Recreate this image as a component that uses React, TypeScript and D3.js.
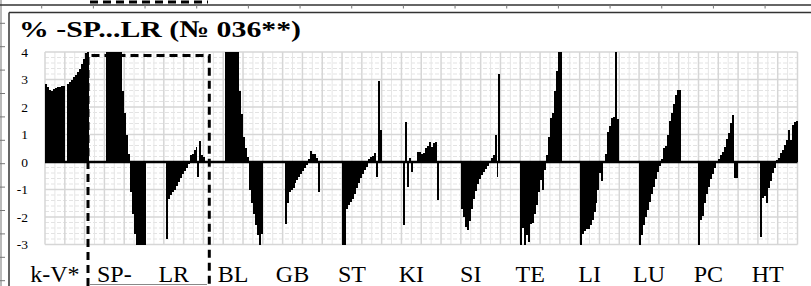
import * as d3 from "d3";

// подписи групп и значения столбцов (читаются с картинки, >4 и <-3 обрезаются осью)
const groups = ["k-V*", "SP-", "LR", "BL", "GB", "ST", "KI", "SI", "TE", "LI", "LU", "PC", "HT"];

const kV = [2.82, 2.72, 2.62, 2.6, 2.65, 2.7, 2.72, 2.74, 2.76, 2.78, 0, 2.85, 2.9, 3.0, 3.08, 3.18, 3.28, 3.4, 3.55, 3.75, 3.95, 4.2];
const sp = [0, 4.5, 4.5, 4.5, 4.5, 4.5, 4.5, 4.5, 4.5, 2.6, 1.8, 1.0, 0.3, -1.1, -1.9, -2.6, -3.5, -3.5, -3.5, -3.5, -3.5];
const lr = [0, -2.8, -1.35, -1.2, -1.1, -1.0, -0.88, -0.72, -0.58, -0.45, -0.33, -0.2, -0.08, 0.25, 0.3, 0.45, 0.55, -0.55, 0.75, 0.25, 0.2];
const bl = [0, 4.5, 4.5, 4.5, 4.5, 4.5, 4.5, 4.5, 2.6, 1.75, 0.9, 0.5, 0.2, -1.0, -1.5, -1.9, -2.3, -2.65, -3.2, -2.6];
const gb = [0, -2.25, -1.5, -1.1, -1.02, -0.95, -0.75, -0.65, -0.55, -0.42, -0.32, -0.22, -0.12, 0.1, 0.4, 0.3, 0.3, 0.15, -1.1];
const st = [-3.2, -3.2, -1.7, -1.55, -1.45, -1.35, -1.15, -0.95, -0.75, -0.58, -0.45, -0.3, -0.18, 0.12, 0.19, 0.22, 0.32, -0.55, 2.93, 1.16];
const ki = [0, -2.29, 1.47, -0.9, 0.13, -0.35, 0.05, 0.05, 0.35, 0.35, 0.3, 0.33, 0.5, 0.6, 0.72, 0.55, 0.68, 0.74, -1.38];
const si = [-1.7, -2.0, -2.35, -2.47, -2.15, -1.7, -1.35, -1.05, -0.8, -0.62, -0.48, -0.36, -0.25, -0.15, -0.05, 0.15, 0.25, 0.98, -0.55, 3.2];
const te = [-3.3, -2.4, -3.3, -2.65, -2.9, -2.25, -2.2, -1.9, -1.55, -1.1, -0.65, -1.0, -0.3, 0.25, 0.9, 1.6, 1.8, 2.6, 3.3, 4.3, 4.3];
const li = [-3.3, -2.6, -2.5, -2.45, -2.42, -2.3, -2.12, -1.8, -1.5, -1.0, -0.4, -0.68, 0.05, 0.3, 1.1, 1.3, 1.6, 1.65, 4.3, 1.55];
const lu = [-3.3, -2.65, -2.3, -2.0, -1.75, -1.45, -1.15, -0.9, -0.6, -0.35, -0.15, 0.12, 0.5, 0.6, 1.0, 1.5, 1.8, 2.1, 2.45, 2.62, 2.62];
const pc = [-3.3, -2.1, -1.95, -1.5, -1.15, -0.9, -0.6, -0.42, -0.22, 0.05, 0.1, 0.25, 0.35, 0.55, 0.85, 1.05, 1.41, 1.71, -0.57, -0.57];
const ht = [0, -2.72, -1.3, -1.25, -1.5, -0.96, -0.7, -0.41, -0.2, 0.07, 0.13, 0.32, 0.43, 0.62, 0.8, 1.16, 0.8, 1.35, 1.47, 1.5];

const series = [kV, sp, lr, bl, gb, st, ki, si, te, li, lu, pc, ht];
const yTicks = [4, 3, 2, 1, 0, -1, -2, -3];
const title = "% -SP...LR (№ 036**)";

const W = 811;
const H = 286;
const groupSize = 30;
const serif = "'Liberation Serif', 'Times New Roman', serif";

export default function App() {
  // каждая группа занимает 30 категорий, последняя — только свои значения
  const slots = series.flatMap((vals, g) => {
    const n = g === series.length - 1 ? vals.length : groupSize;
    return d3.range(n).map(j => ({ i: g * groupSize + j, v: vals[j] ?? null }));
  });

  const x = d3.scaleBand<number>()
    .domain(slots.map(d => d.i))
    .range([45, 797.5])
    .padding(0);

  const y = d3.scaleLinear().domain([-3, 4]).range([244.5, 52]).clamp(true);

  const step = x.step();
  const x0 = x.range()[0];
  const xEnd = x.range()[1];
  const vLines = d3.range(0, slots.length + 1, 5);
  const minorH = d3.range(-15, 21).map(k => k / 5).filter(v => !Number.isInteger(v));

  const leftTicks = d3.range(0, 12).map(k => 23.3 + k * 23.4);
  const topTicks = d3.range(0, 15).map(k => 41.7 + k * 51.67);

  // края столбцов округляем, чтобы соседние столбцы стыковались без щелей
  const edge = (i: number) => Math.round(x0 + i * step);

  return (
    <svg width={W} height={H} style={{ position: "absolute", left: 0, top: 0, background: "#fff" }}>
      <rect width={W} height={H} fill="#fff" />

      {/* обрамление соседних объектов */}
      <line x1={1} x2={1} y1={0} y2={H} stroke="#777" strokeWidth={1} />
      {leftTicks.map(t => (
        <line key={"lt" + t} x1={0} x2={5} y1={t} y2={t} stroke="#777" strokeWidth={1} />
      ))}
      <line x1={0} x2={W} y1={5} y2={5} stroke="#333" strokeWidth={1.5} />
      {topTicks.map(t => (
        <line key={"tt" + t} x1={t} x2={t} y1={5} y2={8.5} stroke="#777" strokeWidth={1} />
      ))}
      <line x1={90} x2={208} y1={2} y2={2} stroke="#000" strokeWidth={3} strokeDasharray="8 5" />
      <line x1={9} x2={W} y1={12.5} y2={12.5} stroke="#333" strokeWidth={1.5} />
      <line x1={9} x2={9} y1={12.5} y2={H} stroke="#333" strokeWidth={1.5} />

      {/* сетка */}
      {minorH.map(v => (
        <line key={"mh" + v} x1={x0} x2={xEnd} y1={y(v)} y2={y(v)}
          stroke="#e3e3e3" strokeWidth={1} strokeDasharray="4 2" />
      ))}
      {vLines.filter(k => k % 10 !== 0).map(k => (
        <line key={"mv" + k} x1={x0 + k * step} x2={x0 + k * step} y1={y(4)} y2={y(-3)}
          stroke="#e6e6e6" strokeWidth={1} />
      ))}
      {yTicks.map(v => (
        <line key={"gh" + v} x1={x0} x2={xEnd} y1={y(v)} y2={y(v)} stroke="#d6d6d6" strokeWidth={1.5} />
      ))}
      {vLines.filter(k => k % 10 === 0).map(k => (
        <line key={"gv" + k} x1={x0 + k * step} x2={x0 + k * step} y1={y(4)} y2={y(-3)}
          stroke="#d6d6d6" strokeWidth={1.5} />
      ))}

      {/* столбцы */}
      <g shapeRendering="crispEdges">
        {slots.filter(d => d.v !== null && d.v !== 0).map(d => {
          const v = d.v as number;
          const top = Math.min(y(v), y(0));
          const left = edge(d.i);
          return (
            <rect key={"b" + d.i} x={left} width={Math.max(1, edge(d.i + 1) - left)}
              y={top} height={Math.abs(y(v) - y(0))} fill="#000" />
          );
        })}
      </g>

      <line x1={x0} x2={xEnd} y1={y(0)} y2={y(0)} stroke="#000" strokeWidth={2.5} />

      {/* ось Y */}
      {yTicks.map(v => (
        <text key={"yl" + v} x={28} y={y(v) + 4.5} textAnchor="end"
          fontFamily={serif} fontSize={13.5} fill="#000">{v}</text>
      ))}

      {/* подписи групп */}
      {groups.map((g, k) => (
        <text key={"gl" + g} x={x0 + (k * groupSize + 5) * step} y={281.5} textAnchor="middle"
          fontFamily={serif} fontSize={24} fill="#000">{g}</text>
      ))}

      {/* выделение SP...LR */}
      <path d={`M88,${H} V55.5 H209.3 V${H}`} fill="none" stroke="#000" strokeWidth={3}
        strokeDasharray="8 5" />
      <line x1={90} x2={207} y1={284.5} y2={284.5} stroke="#888" strokeWidth={1} />

      <text x={19} y={37} fontFamily={serif} fontSize={24} fontWeight="bold" fill="#000"
        textLength={282} lengthAdjust="spacingAndGlyphs">{title}</text>
    </svg>
  );
}
